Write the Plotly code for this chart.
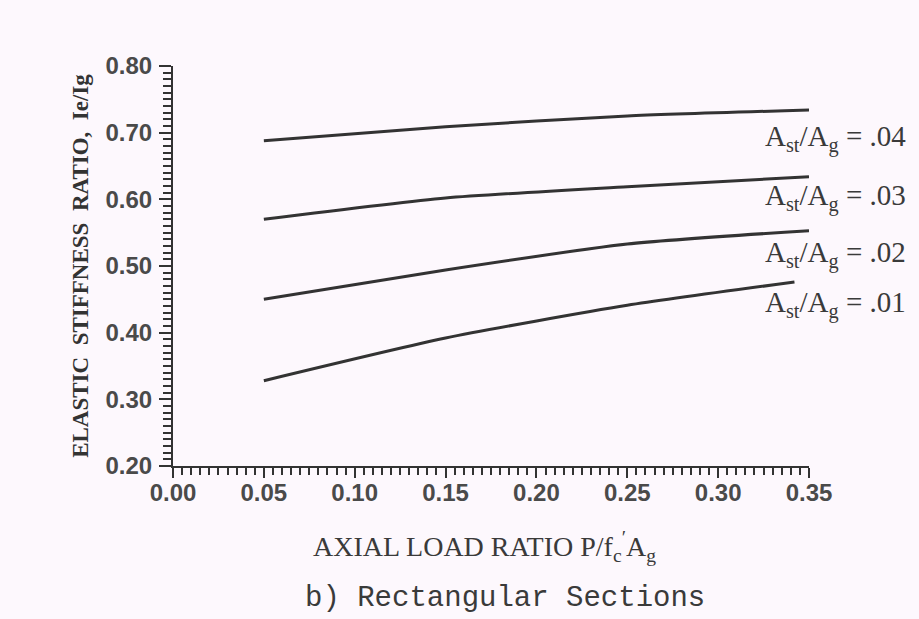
import plotly.graph_objects as go

# Data (x = axial load ratio, y = Ie/Ig)
x_main = [0.05, 0.15, 0.25, 0.35]
x_01 = [0.05, 0.15, 0.25, 0.342]
y_04 = [0.688, 0.709, 0.725, 0.734]
y_03 = [0.570, 0.602, 0.619, 0.634]
y_02 = [0.450, 0.494, 0.533, 0.553]
y_01 = [0.328, 0.392, 0.441, 0.476]
ratios = [".04", ".03", ".02", ".01"]
label_y = [0.691, 0.603, 0.517, 0.443]

x_ticks = [0.00, 0.05, 0.10, 0.15, 0.20, 0.25, 0.30, 0.35]
y_ticks = [0.20, 0.30, 0.40, 0.50, 0.60, 0.70, 0.80]

BG = "#fdf8fd"
INK = "#333333"

fig = go.Figure()
series = [(x_main, y_04), (x_main, y_03), (x_main, y_02), (x_01, y_01)]
for (xs, ys) in series:
    fig.add_trace(go.Scatter(x=xs, y=ys, mode="lines",
                             line=dict(color=INK, width=3, shape="spline", smoothing=0.6),
                             showlegend=False, hoverinfo="skip"))

for r, ly in zip(ratios, label_y):
    fig.add_annotation(x=0.35, y=ly, xref="x", yref="y",
                       text=f"A<sub>st</sub>/A<sub>g</sub> = {r}",
                       showarrow=False, xanchor="left", yanchor="middle", xshift=-46,
                       font=dict(family="Liberation Serif", size=29, color="#3a3a3a"))

fig.add_annotation(x=0.5, y=-0.2, xref="paper", yref="paper",
                   text="AXIAL LOAD RATIO P/f<sub>c</sub><sup>′</sup>A<sub>g</sub>",
                   showarrow=False, xanchor="center", yanchor="middle", xshift=-7,
                   font=dict(family="Liberation Serif", size=28, color="#3a3a3a"))
fig.add_annotation(x=0.5, y=-0.33, xref="paper", yref="paper",
                   text="b) Rectangular Sections",
                   showarrow=False, xanchor="center", yanchor="middle", xshift=14,
                   font=dict(family="Liberation Mono", size=29, color="#3a3a3a"))

tickfont = dict(family="Liberation Sans", size=24, color="#4a4a4a", weight="bold")

fig.update_xaxes(range=[0, 0.35], tickvals=x_ticks,
                 ticktext=[f"{v:.2f}" for v in x_ticks],
                 showgrid=False, zeroline=False, showline=True, linecolor=INK, linewidth=2,
                 ticks="outside", ticklen=10, tickwidth=2, tickcolor=INK,
                 tickfont=tickfont, ticklabelstandoff=-6,
                 minor=dict(dtick=0.005, ticks="outside", ticklen=7, tickwidth=1.5,
                            tickcolor=INK, showgrid=False))
fig.update_yaxes(range=[0.20, 0.80], tickvals=y_ticks,
                 ticktext=[f"{v:.2f}" for v in y_ticks],
                 showgrid=False, zeroline=False, showline=True, linecolor=INK, linewidth=2,
                 ticks="outside", ticklen=12, tickwidth=2, tickcolor=INK,
                 tickfont=tickfont, ticklabelstandoff=2,
                 minor=dict(dtick=0.01, ticks="outside", ticklen=8, tickwidth=1.5,
                            tickcolor=INK, showgrid=False),
                 title=dict(text="ELASTIC  STIFFNESS  RATIO,  Ie/Ig",
                            font=dict(family="Liberation Serif", size=23, color="#333333",
                                      weight="bold"),
                            standoff=10))

fig.update_layout(width=919, height=619,
                  margin=dict(l=173, r=110, t=66, b=153),
                  paper_bgcolor=BG, plot_bgcolor=BG)

fig.write_html("out.html")
